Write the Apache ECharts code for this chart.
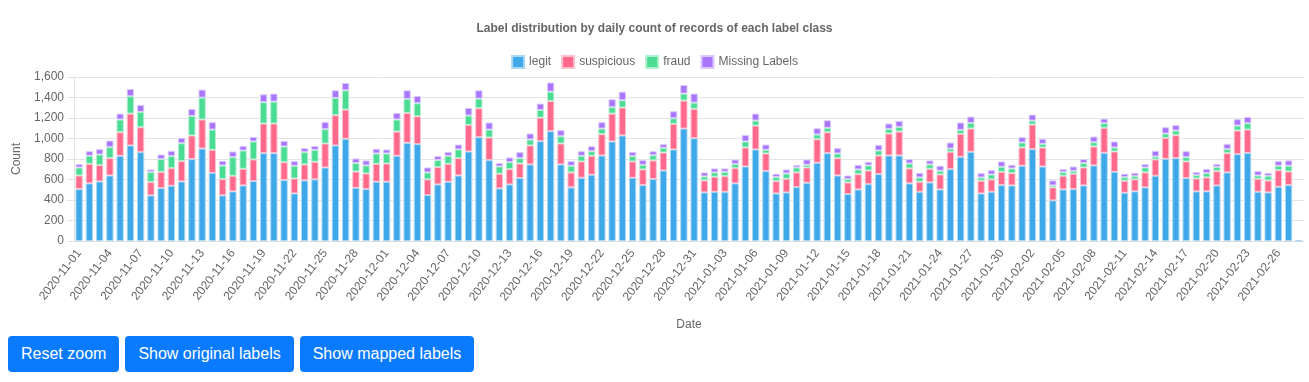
<!DOCTYPE html>
<html>
<head>
<meta charset="utf-8">
<script src="https://cdn.jsdelivr.net/npm/echarts@6/dist/echarts.min.js"></script>
<style>
  html, body { margin: 0; padding: 0; background: #fff; }
  body { font-family: "Liberation Sans", Arial, Helvetica, sans-serif; }
  #chart { position: absolute; left: 0; top: 0; width: 1309px; height: 382px; }
  .btns { position: absolute; left: 8px; top: 336px; display: flex; gap: 6px; }
  .btn { background: #0a7bff; color: #fff; border: 0; border-radius: 4px; font-size: 16px;
         height: 36px; padding: 0 13px; font-family: "Liberation Sans", Arial, sans-serif; }
</style>
</head>
<body>
<div id="chart"></div>
<div class="btns">
  <button class="btn">Reset zoom</button>
  <button class="btn">Show original labels</button>
  <button class="btn">Show mapped labels</button>
</div>
<script>
const dates = [
  "2020-11-01","2020-11-02","2020-11-03","2020-11-04","2020-11-05","2020-11-06","2020-11-07","2020-11-08","2020-11-09","2020-11-10",
  "2020-11-11","2020-11-12","2020-11-13","2020-11-14","2020-11-15","2020-11-16","2020-11-17","2020-11-18","2020-11-19","2020-11-20",
  "2020-11-21","2020-11-22","2020-11-23","2020-11-24","2020-11-25","2020-11-26","2020-11-27","2020-11-28","2020-11-29","2020-11-30",
  "2020-12-01","2020-12-02","2020-12-03","2020-12-04","2020-12-05","2020-12-06","2020-12-07","2020-12-08","2020-12-09","2020-12-10",
  "2020-12-11","2020-12-12","2020-12-13","2020-12-14","2020-12-15","2020-12-16","2020-12-17","2020-12-18","2020-12-19","2020-12-20",
  "2020-12-21","2020-12-22","2020-12-23","2020-12-24","2020-12-25","2020-12-26","2020-12-27","2020-12-28","2020-12-29","2020-12-30",
  "2020-12-31","2021-01-01","2021-01-02","2021-01-03","2021-01-04","2021-01-05","2021-01-06","2021-01-07","2021-01-08","2021-01-09",
  "2021-01-10","2021-01-11","2021-01-12","2021-01-13","2021-01-14","2021-01-15","2021-01-16","2021-01-17","2021-01-18","2021-01-19",
  "2021-01-20","2021-01-21","2021-01-22","2021-01-23","2021-01-24","2021-01-25","2021-01-26","2021-01-27","2021-01-28","2021-01-29",
  "2021-01-30","2021-01-31","2021-02-01","2021-02-02","2021-02-03","2021-02-04","2021-02-05","2021-02-06","2021-02-07","2021-02-08",
  "2021-02-09","2021-02-10","2021-02-11","2021-02-12","2021-02-13","2021-02-14","2021-02-15","2021-02-16","2021-02-17","2021-02-18",
  "2021-02-19","2021-02-20","2021-02-21","2021-02-22","2021-02-23","2021-02-24","2021-02-25","2021-02-26","2021-02-27","2021-02-28"
];

const legit = [
  506,562,581,639,831,932,867,445,516,539, 581,799,902,665,445,484,542,584,857,857,
  594,464,591,601,717,932,997,519,506,578, 578,831,958,945,448,552,578,639,873,1013,
  789,513,552,614,747,974,1071,747,523,617, 646,834,971,1029,617,545,604,688,893,1097,
  1003,474,480,480,562,727,893,682,464,474, 526,568,763,857,639,458,503,555,652,834,
  834,562,480,571,503,701,821,870,464,480, 545,542,734,896,727,396,503,506,542,737,
  860,675,471,484,523,636,802,808,614,484, 484,542,669,847,860,480,474,529,545,4
];
const suspicious = [
  133,191,159,169,230,311,243,130,159,172, 198,230,283,224,159,152,162,211,289,289,
  175,146,156,172,234,295,285,159,153,175, 178,237,292,272,153,169,175,169,260,282,
  221,143,149,142,185,230,294,204,146,159, 185,208,272,273,159,153,182,175,250,273,
  286,117,146,153,149,185,233,172,120,133, 143,149,230,204,169,113,149,133,182,215,
  234,146,98,133,146,169,224,227,124,121, 130,120,178,240,185,127,133,150,175,185,
  244,198,117,117,146,159,204,224,162,126, 136,140,188,231,227,127,117,162,133,null
];
const fraud = [
  78,78,104,107,124,169,149,97,124,117, 175,191,214,198,133,182,179,176,208,214,
  153,124,120,116,140,169,188,82,78,101, 98,117,136,127,68,68,78,85,91,94,
  77,71,68,52,58,75,92,71,65,55, 45,55,62,71,52,45,51,46,55,68,
  61,39,43,42,39,59,49,35,39,52, 48,26,46,43,46,33,46,49,49,45,
  45,48,42,43,36,32,39,55,32,48, 49,46,49,39,36,19,36,29,43,42,
  45,39,35,32,48,29,42,46,42,33, 42,39,39,48,62,32,45,43,56,null
];
const missingLabels = [
  33,45,52,65,58,71,69,26,45,52, 52,69,78,72,45,55,45,45,77,78,
  55,45,39,39,71,74,72,45,49,45, 39,65,84,71,48,39,39,48,74,81,
  69,33,46,59,59,62,89,59,45,45, 49,62,78,84,42,46,39,36,68,84,
  88,39,39,33,45,64,68,52,33,39, 23,52,61,74,52,35,45,36,55,52,
  59,43,45,39,49,59,72,62,42,42, 52,35,52,58,49,49,29,42,39,55,
  45,59,33,32,33,56,62,52,58,29, 42,29,52,62,62,43,29,45,52,null
];
const yTicks = [0, 200, 400, 600, 800, 1000, 1200, 1400, 1600];

const seriesDefs = [
  { name: "legit", data: legit, color: "#3fa8e8", border: "#a9d8f6" },
  { name: "suspicious", data: suspicious, color: "#ff6a8c", border: "#ffc0cf" },
  { name: "fraud", data: fraud, color: "#4bdc93", border: "#b3f0d1" },
  { name: "Missing Labels", data: missingLabels, color: "#a776fd", border: "#dcc8fe" }
];

const chart = echarts.init(document.getElementById("chart"), null, { renderer: "canvas" });
const fontFam = "'Liberation Sans', Arial, Helvetica, sans-serif";
chart.setOption({
  animation: false,
  textStyle: { fontFamily: fontFam },
  title: {
    text: "Label distribution by daily count of records of each label class",
    left: "center", top: 18,
    textStyle: { fontSize: 12, fontWeight: "bold", color: "#666", fontFamily: fontFam }
  },
  legend: {
    top: 50, left: "center",
    itemWidth: 12, itemHeight: 12, itemGap: 10,
    icon: "rect",
    textStyle: { fontSize: 12, color: "#666", fontFamily: fontFam }
  },
  grid: { left: 74, right: 5, top: 77, bottom: 141, outerBoundsMode: "none" },
  xAxis: {
    type: "category",
    data: dates,
    name: "Date", nameLocation: "middle", nameGap: 78,
    nameTextStyle: { fontSize: 12, color: "#666" },
    axisLine: { show: true, lineStyle: { color: "#dcdcdc" } },
    axisTick: { show: false },
    axisLabel: {
      rotate: 52, fontSize: 12, color: "#666", margin: 10,
      interval: function (idx) { return idx % 3 === 0 && idx <= 117; }
    },
    splitLine: { show: false }
  },
  yAxis: {
    type: "value",
    min: yTicks[0], max: yTicks[yTicks.length - 1], interval: 200,
    name: "Count", nameLocation: "middle", nameGap: 44,
    nameTextStyle: { fontSize: 12, color: "#666" },
    axisLine: { show: true, lineStyle: { color: "#e4e4e4" } },
    axisTick: { show: true, length: 7, lineStyle: { color: "#e4e4e4" } },
    axisLabel: {
      fontSize: 12, color: "#666", margin: 10,
      formatter: function (v) { return v.toLocaleString("en-US"); }
    },
    splitLine: { show: true, lineStyle: { color: "#e4e4e4" } }
  },
  series: seriesDefs.map(function (s) {
    return {
      name: s.name, type: "bar", stack: "total",
      data: s.data,
      barCategoryGap: "29%",
      itemStyle: { color: s.color, borderColor: s.border, borderWidth: 1 },
      emphasis: { disabled: true }
    };
  })
});
</script>
</body>
</html>
